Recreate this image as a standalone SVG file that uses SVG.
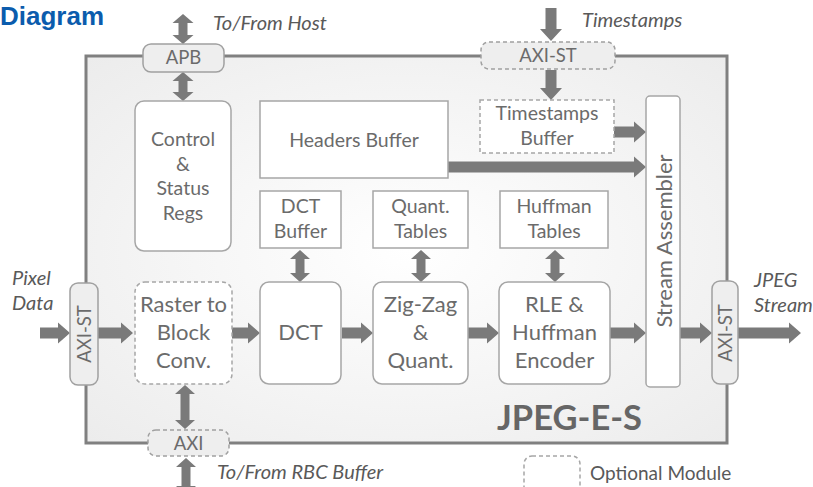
<svg xmlns="http://www.w3.org/2000/svg" width="813" height="487" viewBox="0 0 813 487">
<defs>
<radialGradient id="bg" cx="50%" cy="50%" r="70%">
<stop offset="0" stop-color="#ffffff"/>
<stop offset="1" stop-color="#ececec"/>
</radialGradient>
<style>
.box{fill:#ffffff;stroke:#a6a6a6;stroke-width:1.5}
.dash{stroke-dasharray:4 3}
.port{fill:#eeeeee;stroke:#a0a0a0;stroke-width:1.5}
.arr{fill:#7a7a7a}
.t{font-family:Lato,"Liberation Sans",sans-serif;fill:#6b6b6b;text-anchor:middle}
.s18{font-size:18.5px}
.s19{font-size:19.5px}
.s22{font-size:22px}
.lbl{font-family:Lato,"Liberation Sans",sans-serif;font-style:italic;font-size:20px;fill:#595959}
</style>
</defs>
<rect width="813" height="487" fill="#ffffff"/>
<text x="0" y="25" font-family="Liberation Sans,Arial,sans-serif" font-weight="bold" font-size="26" fill="#0b5cad">Diagram</text>

<g id="outer">
<rect x="86" y="56" width="641" height="387" fill="url(#bg)" stroke="#808080" stroke-width="3"/>
<text x="497" y="430" font-family="Lato,'Liberation Sans',sans-serif" font-weight="bold" font-size="34.5" fill="#666666">JPEG-E-S</text>
</g>

<g id="connectors">
<path class="arr" d="M40 327.5H58V322.5L70 333L58 343.5V338.5H40Z"/>
<path class="arr" d="M98 327.5H121V322.5L133 333L121 343.5V338.5H98Z"/>
<path class="arr" d="M229 327.5H248V322.5L260 333L248 343.5V338.5H229Z"/>
<path class="arr" d="M342 327.5H361V322.5L373 333L361 343.5V338.5H342Z"/>
<path class="arr" d="M468 327.5H487V322.5L499 333L487 343.5V338.5H468Z"/>
<path class="arr" d="M610 327.5H634V322.5L646 333L634 343.5V338.5H610Z"/>
<path class="arr" d="M680 327.5H700V322.5L712 333L700 343.5V338.5H680Z"/>
<path class="arr" d="M738 327.5H789V322.5L801 333L789 343.5V338.5H738Z"/>
<path class="arr" d="M614 126.5H634V121.5L646 132L634 142.5V137.5H614Z"/>
<path class="arr" d="M448 161.5H634V156.5L646 167L634 177.5V172.5H448Z"/>
<path class="arr" d="M545.5 8H556.5V29H562L551 41L540 29H545.5Z"/>
<path class="arr" d="M545.5 70H556.5V88H562L551 100L540 88H545.5Z"/>
<path class="arr" d="M183 14L193.5 23H187.5V35H193.5L183 44L172.5 35H178.5V23H172.5Z"/>
<path class="arr" d="M183 72L193.5 81H187.5V92H193.5L183 101L172.5 92H178.5V81H172.5Z"/>
<path class="arr" d="M300 250L310 259H304.5V273H310L300 282L290 273H295.5V259H290Z"/>
<path class="arr" d="M421 250L431 259H425.5V273H431L421 282L411 273H416.5V259H411Z"/>
<path class="arr" d="M555 250L565 259H559.5V273H565L555 282L545 273H550.5V259H545Z"/>
<path class="arr" d="M185 385L195 394H189.5V420H195L185 429L175 420H180.5V394H175Z"/>
<path class="arr" d="M186 458L196 467H190.5V486H196L186 495L176 486H181.5V467H176Z"/>
</g>

<g id="apb"><rect class="port" x="143" y="44" width="81" height="28" rx="8"/><text class="t s18" x="183.5" y="64">APB</text></g>
<g id="axist-top"><rect class="port dash" x="481" y="42" width="134" height="27" rx="8"/><text class="t s18" x="548" y="62">AXI-ST</text></g>
<g id="axist-in"><rect class="port" x="70" y="283" width="28" height="102" rx="8"/><text class="t s18" transform="translate(90.5 334) rotate(-90)">AXI-ST</text></g>
<g id="axist-out"><rect class="port" x="712" y="281" width="26" height="103" rx="8"/><text class="t s18" transform="translate(731.5 333) rotate(-90)">AXI-ST</text></g>
<g id="axi-bottom"><rect class="port dash" x="148" y="430" width="81" height="26" rx="8"/><text class="t s18" x="188.5" y="450">AXI</text></g>

<g id="ctrl"><rect class="box" x="135" y="101" width="96" height="150" rx="9"/>
<text class="t s19" x="183" y="146">Control</text><text class="t s19" x="183" y="171">&amp;</text><text class="t s19" x="183" y="195">Status</text><text class="t s19" x="183" y="220">Regs</text></g>
<g id="headers"><rect class="box" x="260" y="101" width="188" height="77"/><text class="t s19" x="354" y="147">Headers Buffer</text></g>
<g id="dctbuf"><rect class="box" x="260" y="191" width="81" height="57"/><text class="t s19" x="300.5" y="213">DCT</text><text class="t s19" x="300.5" y="238">Buffer</text></g>
<g id="quanttables"><rect class="box" x="373" y="191" width="95" height="57"/><text class="t s19" x="420.5" y="213">Quant.</text><text class="t s19" x="420.5" y="238">Tables</text></g>
<g id="hufftables"><rect class="box" x="500" y="191" width="108" height="57"/><text class="t s19" x="554" y="213">Huffman</text><text class="t s19" x="554" y="238">Tables</text></g>
<g id="tsbuf"><rect class="box dash" x="480" y="100" width="134" height="53"/><text class="t s19" x="547" y="120">Timestamps</text><text class="t s19" x="547" y="145">Buffer</text></g>
<g id="stream-asm"><rect class="box" x="646" y="96" width="34" height="291" rx="4"/><text class="t s22" transform="translate(672 241) rotate(-90)">Stream Assembler</text></g>

<g id="raster"><rect class="box dash" x="135" y="282" width="97" height="102" rx="10"/>
<text class="t s22" x="183.5" y="312">Raster to</text><text class="t s22" x="183.5" y="340">Block</text><text class="t s22" x="183.5" y="368">Conv.</text></g>
<g id="dct"><rect class="box" x="260" y="282" width="81" height="102" rx="9"/><text class="t s22" x="300.5" y="340">DCT</text></g>
<g id="zigzag"><rect class="box" x="373" y="282" width="95" height="102" rx="9"/>
<text class="t s22" x="420.5" y="312">Zig-Zag</text><text class="t s22" x="420.5" y="340">&amp;</text><text class="t s22" x="420.5" y="368">Quant.</text></g>
<g id="rle"><rect class="box" x="499" y="282" width="111" height="102" rx="9"/>
<text class="t s22" x="554.5" y="312">RLE &amp;</text><text class="t s22" x="554.5" y="340">Huffman</text><text class="t s22" x="554.5" y="368">Encoder</text></g>

<g id="labels">
<text class="lbl" x="213" y="30">To/From Host</text>
<text class="lbl" x="582" y="27">Timestamps</text>
<text class="lbl" x="12" y="285">Pixel</text>
<text class="lbl" x="12" y="310">Data</text>
<text class="lbl" x="754" y="287">JPEG</text>
<text class="lbl" x="754" y="312">Stream</text>
<text class="lbl" x="217" y="479">To/From RBC Buffer</text>
</g>

<g id="legend"><rect class="box dash" x="524" y="456" width="56" height="40" rx="8"/><text font-family="Lato,'Liberation Sans',sans-serif" font-size="19" fill="#595959" x="590" y="480">Optional Module</text></g>
</svg>
